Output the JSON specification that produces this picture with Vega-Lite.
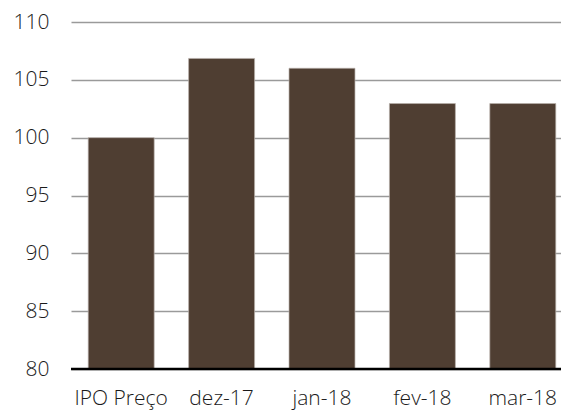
{
  "$schema": "https://vega.github.io/schema/vega-lite/v6.json",
  "width": 502,
  "height": 347,
  "autosize": {"type": "none"},
  "padding": {"left": 71, "top": 22, "right": 0, "bottom": 41},
  "background": "white",
  "config": {"view": {"stroke": null}, "font": "Open Sans"},
  "data": {"values": [
    {"cat": "IPO Preço", "v": 100},
    {"cat": "dez-17", "v": 106.85},
    {"cat": "jan-18", "v": 106},
    {"cat": "fev-18", "v": 102.95},
    {"cat": "mar-18", "v": 102.95}
  ]},
  "layer": [
    {
      "mark": {"type": "bar", "color": "#4f3e32", "stroke": "#b8b0aa", "strokeWidth": 0.7},
      "encoding": {
        "x": {"field": "cat", "type": "nominal", "sort": null,
          "scale": {"paddingInner": 0.343, "paddingOuter": 0.1715},
          "axis": {"title": null, "labelAngle": 0, "ticks": false, "domain": false, "labelFontSize": 21, "labelFontWeight": 300, "labelColor": "#1a1a1a", "labelPadding": 18, "labelFont": "Open Sans"}},
        "y": {"field": "v", "type": "quantitative",
          "scale": {"domain": [80, 110], "zero": false, "nice": false},
          "axis": {"title": null, "values": [80, 85, 90, 95, 100, 105, 110], "ticks": false, "domain": false, "grid": true, "gridColor": "#9a9a9a", "gridWidth": 1.5, "labelFontSize": 21, "labelFontWeight": 300, "labelColor": "#1a1a1a", "labelPadding": 22, "labelFont": "Open Sans"}},
        "y2": {"datum": 80}
      }
    },
    {
      "data": {"values": [{"y": 80}]},
      "mark": {"type": "rule", "color": "#000", "strokeWidth": 2.5},
      "encoding": {"y": {"field": "y", "type": "quantitative"}}
    }
  ]
}
